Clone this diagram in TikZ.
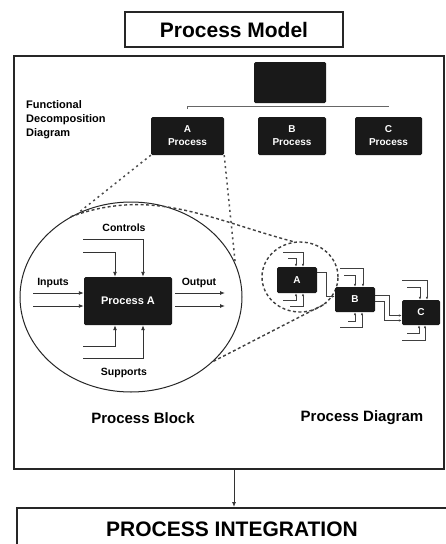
\documentclass[tikz,border=0pt]{standalone}
\usepackage{fontspec}
\setmainfont{Liberation Sans}
\usetikzlibrary{shapes.geometric,arrows.meta}
\begin{document}
\begin{tikzpicture}[x=1pt,y=-1pt,
  frame/.style={draw=black!85, line width=1.6pt},
  blk/.style={fill=black!90, text=white, font=\bfseries\fontsize{10}{13}\selectfont, inner sep=0pt, rounded corners=1.5pt, align=center},
  lbl/.style={font=\bfseries\fontsize{10.5}{12}\selectfont, inner sep=0pt},
  big/.style={font=\bfseries\fontsize{15}{18}\selectfont, inner sep=0pt},
  arr/.style={draw=black!80, line width=0.9pt, -{Latex[length=5pt,width=4pt]}},
  marr/.style={draw=black!75, line width=0.7pt, -{Latex[length=3pt,width=2.5pt]}},
  zoomline/.style={draw=black!75, line width=1.4pt, dash pattern=on 3pt off 2.5pt},
  dotline/.style={draw=black!70, line width=1.5pt, dash pattern=on 2pt off 3.5pt},
]
\useasboundingbox (0,0) rectangle (446,544);
\fill[white] (0,0) rectangle (446,544);

% title and frames
\node[frame, minimum width=218, minimum height=35, font=\bfseries\fontsize{21}{24}\selectfont] (title) at (234,29.5) {Process Model};
\node[frame, minimum width=430, minimum height=413] (model) at (229,262.5) {};
\node[frame, minimum width=440, minimum height=80, anchor=north west] (integ) at (16,507) {};
\node[font=\bfseries\fontsize{21}{24}\selectfont, inner sep=0pt] (integlbl) at (232,529) {PROCESS INTEGRATION};
\draw[arr] (model.south -| title.south) -- (integ.north -| title.south);

% functional decomposition
\node[anchor=north west, align=left, font=\bfseries\fontsize{11}{14}\selectfont, inner sep=0pt] (fdd) at (26,100) {Functional\\Decomposition\\Diagram};
\node[blk, minimum width=72, minimum height=41] (top) at (290,82.5) {};
\node[blk, minimum width=73, minimum height=38] (A) at (187.5,136) {A\\Process};
\node[blk, minimum width=68, minimum height=38] (B) at (292,136) {B\\Process};
\node[blk, minimum width=67, minimum height=38] (C) at (388.5,136) {C\\Process};
\coordinate (hl) at (0,106);
\draw[draw=black!60, line width=0.8pt] (A.north |- hl) ++(0,3) -- (A.north |- hl) -- (C.north |- hl);

% process block
\node[draw=black!85, line width=1pt, ellipse, minimum width=222, minimum height=190, inner sep=0pt] (ell) at (131,297) {};
\node[blk, minimum width=88, minimum height=48, font=\bfseries\fontsize{11}{13}\selectfont] (pa) at (128,301) {Process A};
\node[lbl] (ctl) at (124,228) {Controls};
\node[lbl] (inp) at (53,283) {Inputs};
\node[lbl] (outp) at (199,283) {Output};
\node[lbl] (sup) at (124,373) {Supports};
\coordinate (c1) at (83,239);
\coordinate (c2) at (83,252);
\coordinate (s1) at (83,346);
\coordinate (s2) at (83,358);
\coordinate (i1) at (33,293);
\coordinate (i2) at (33,306);
\coordinate (o1) at (225,293);
\coordinate (o2) at (225,306);
\draw[arr] (c1) -| ([xshift=15pt]pa.north);
\draw[arr] (c2) -| ([xshift=-13pt]pa.north);
\draw[arr] (s1) -| ([xshift=-13pt]pa.south);
\draw[arr] (s2) -| ([xshift=15pt]pa.south);
\draw[arr] (i1) -- (i1 -| pa.west);
\draw[arr] (i2) -- (i2 -| pa.west);
\draw[arr] ([xshift=3pt]o1 -| pa.east) -- (o1);
\draw[arr] ([xshift=3pt]o2 -| pa.east) -- (o2);
\node[big] (pbl) at (143,418) {Process Block};

% zoom lines from A
\draw[dotline] (A.south west) -- (ell.122);
\draw[dotline] (A.south east) -- (ell.18);

% process diagram
\node[draw=black!75, line width=1.4pt, dash pattern=on 3pt off 2.5pt, ellipse, minimum width=76, minimum height=70, inner sep=0pt] (sc) at (300,277) {};
\draw[zoomline] (ell.127) to[out=20,in=165] (sc.100);
\draw[zoomline] (ell.-38) -- (sc.-45);

\node[blk, minimum width=40, minimum height=26] (sa) at (297,280) {A};
\node[blk, minimum width=40, minimum height=25] (sb) at (355,299.5) {B};
\node[blk, minimum width=38, minimum height=25] (scc) at (421,312.5) {C};

\coordinate (ac1) at (283,252);
\coordinate (ac2) at (288,258);
\coordinate (as1) at (283,300);
\coordinate (as2) at (290,306);
\draw[marr] (ac1) -| ([xshift=6pt]sa.north);
\draw[marr] (ac2) -| ([xshift=-1pt]sa.north);
\draw[marr] (as1) -| ([xshift=-1pt]sa.south);
\draw[marr] (as2) -| ([xshift=6pt]sa.south);
\draw[marr] ([yshift=8pt]sa.east) -- ++(9,0) |- ([yshift=3pt]sb.west);

\coordinate (bc1) at (340,268);
\coordinate (bc2) at (344,275);
\coordinate (bs1) at (340,327);
\coordinate (bs2) at (348,321);
\draw[marr] (bc1) -| ([xshift=8pt]sb.north);
\draw[marr] (bc2) -| (sb.north);
\draw[marr] (bs1) -| ([xshift=7pt]sb.south);
\draw[marr] (bs2) -| (sb.south);
\draw[marr] ([yshift=4pt]sb.east) -- ++(14,0) |- ([yshift=-3pt]scc.west);
\draw[marr] ([yshift=-2pt]sb.east) -- ++(9,0) |- ([yshift=-8pt]scc.west);

\coordinate (cc1) at (402,280);
\coordinate (cc2) at (407,287);
\coordinate (cs1) at (402,340);
\coordinate (cs2) at (407,333);
\draw[marr] (cc1) -| ([xshift=6pt]scc.north);
\draw[marr] (cc2) -| ([xshift=-1pt]scc.north);
\draw[marr] (cs1) -| ([xshift=4pt]scc.south);
\draw[marr] (cs2) -| ([xshift=-2pt]scc.south);

\node[big] (pdl) at (362,418) {Process Diagram};
\end{tikzpicture}
\end{document}
